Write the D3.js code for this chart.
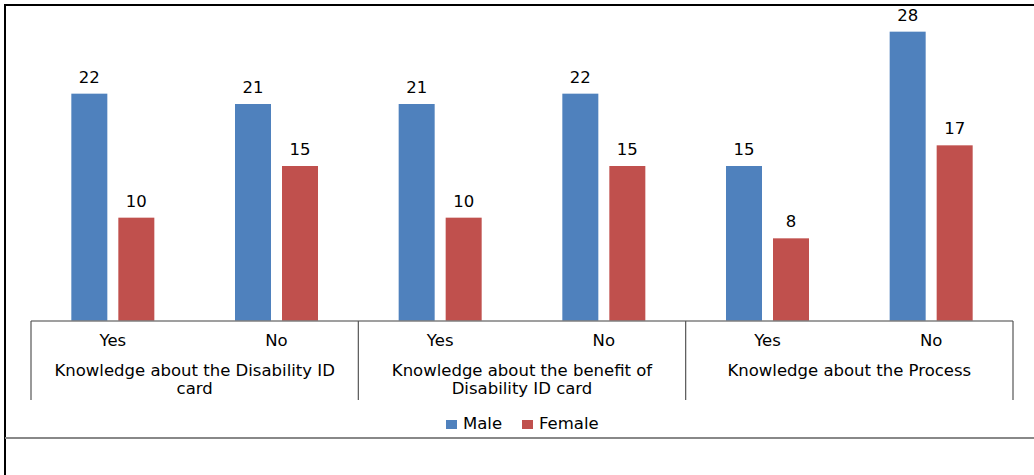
<!DOCTYPE html>
<html>
<head>
<meta charset="utf-8">
<script src="https://cdn.jsdelivr.net/npm/d3@7"></script>
<style>
  body { margin: 0; background: #fff; }
  text { font-family: "DejaVu Sans", sans-serif; fill: #000; }
</style>
</head>
<body>
<div id="chart"></div>
<script>
var groups = ["Knowledge about the Disability ID card", "Knowledge about the benefit of Disability ID card", "Knowledge about the Process"];
var groupLines = [["Knowledge about the Disability ID", "card"], ["Knowledge about the benefit of", "Disability ID card"], ["Knowledge about the Process"]];
var answers = ["Yes", "No"];
var series = ["Male", "Female"];
var male = [22, 21, 21, 22, 15, 28];
var female = [10, 15, 10, 15, 8, 17];
var colors = ["#4F81BD", "#C0504D"];

var width = 1034, height = 475;
var margin = {top: 11, left: 31, right: 21, bottom: 154};
var plotW = width - margin.left - margin.right;
var plotH = height - margin.top - margin.bottom;

var svg = d3.select("#chart").append("svg")
    .attr("width", width)
    .attr("height", height);

// outer frame
svg.append("line").attr("x1", 5).attr("x2", width).attr("y1", 5).attr("y2", 5)
    .attr("stroke", "#000").attr("stroke-width", 2);
svg.append("line").attr("x1", 5).attr("x2", 5).attr("y1", 4).attr("y2", height)
    .attr("stroke", "#000").attr("stroke-width", 2);
svg.append("line").attr("x1", 5).attr("x2", width).attr("y1", 438).attr("y2", 438)
    .attr("stroke", "#888").attr("stroke-width", 2);

var cats = [];
groups.forEach(function(g, gi) {
    answers.forEach(function(a, ai) { cats.push(gi + "-" + a); });
});
var data = cats.map(function(c, i) { return {cat: c, values: [male[i], female[i]]}; });

var x = d3.scaleBand().domain(cats).range([0, plotW]);
var y = d3.scaleLinear().domain([0, 30]).range([plotH, 0]);
var xs = d3.scaleBand().domain(series).range([0, x.bandwidth()]).paddingInner(0.234).paddingOuter(0.858);

var g = svg.append("g").attr("transform", "translate(" + margin.left + "," + margin.top + ")");

var cg = g.selectAll(".cat").data(data).enter().append("g")
    .attr("transform", function(d) { return "translate(" + x(d.cat) + ",0)"; });

cg.selectAll("rect").data(function(d) { return d.values.map(function(v, i) { return {s: series[i], v: v, i: i}; }); })
    .enter().append("rect")
    .attr("x", function(d) { return xs(d.s); })
    .attr("y", function(d) { return y(d.v); })
    .attr("width", xs.bandwidth())
    .attr("height", function(d) { return plotH - y(d.v); })
    .attr("fill", function(d) { return colors[d.i]; });

cg.selectAll(".lbl").data(function(d) { return d.values.map(function(v, i) { return {s: series[i], v: v}; }); })
    .enter().append("text")
    .attr("x", function(d) { return xs(d.s) + xs.bandwidth() / 2; })
    .attr("y", function(d) { return y(d.v) - 11; })
    .attr("text-anchor", "middle")
    .style("font-size", "16.5px")
    .text(function(d) { return d.v; });

// category axis
var ax = g.append("g").attr("transform", "translate(0," + plotH + ")");
ax.append("line").attr("x1", 0).attr("x2", plotW).attr("stroke", "#7f7f7f").attr("stroke-width", 1.5);
var gw = plotW / groups.length;
d3.range(groups.length + 1).forEach(function(i) {
    ax.append("line").attr("x1", i * gw).attr("x2", i * gw).attr("y1", 0).attr("y2", 79)
        .attr("stroke", "#555").attr("stroke-width", 1.2);
});
ax.selectAll(".ans").data(cats).enter().append("text")
    .attr("x", function(d) { return x(d) + x.bandwidth() / 2; })
    .attr("y", 25)
    .attr("text-anchor", "middle")
    .style("font-size", "16.5px")
    .text(function(d) { return d.split("-")[1]; });
groupLines.forEach(function(lines, gi) {
    lines.forEach(function(t, li) {
        ax.append("text")
            .attr("x", gi * gw + gw / 2)
            .attr("y", 55 + li * 18)
            .attr("text-anchor", "middle")
            .style("font-size", "16.5px")
            .text(t);
    });
});

// legend
var leg = svg.append("g").attr("transform", "translate(446,419)");
series.forEach(function(s, i) {
    var lg = leg.append("g").attr("transform", "translate(" + (i * 76) + ",0)");
    lg.append("rect").attr("y", 1).attr("width", 11).attr("height", 9).attr("fill", colors[i]);
    lg.append("text").attr("x", 17).attr("y", 10).style("font-size", "16.5px").text(s);
});
</script>
</body>
</html>
